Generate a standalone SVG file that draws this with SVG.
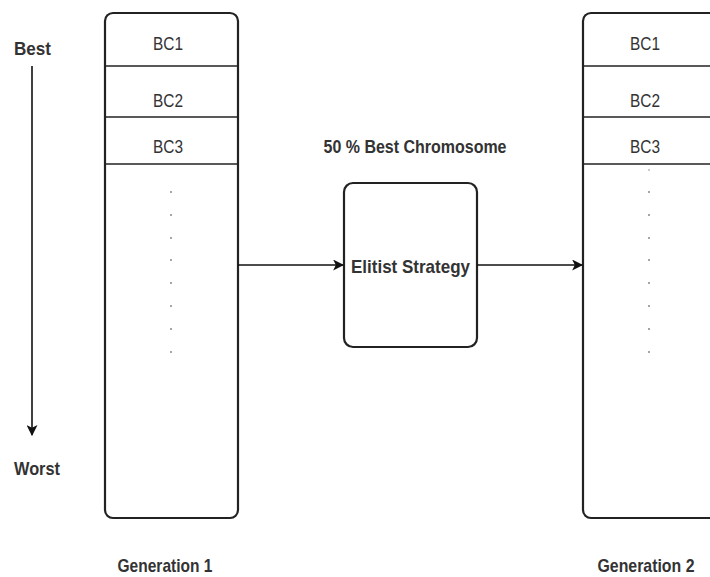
<svg xmlns="http://www.w3.org/2000/svg" width="710" height="577" viewBox="0 0 710 577">
<style>
.box{fill:#fff;stroke:#222;stroke-width:2.2}
.div{stroke:#222;stroke-width:1.6}
.bc{font-family:"Liberation Sans",Arial,sans-serif;font-size:18px;fill:#333;text-anchor:middle}
.lbl{font-family:"Liberation Sans",Arial,sans-serif;font-size:19px;fill:#333;font-weight:bold}
.dot{fill:#888}
.con{stroke:#111;stroke-width:1.6;fill:none}
</style>
<defs>
<marker id="ah" viewBox="0 0 10 10" refX="9" refY="5" markerWidth="11" markerHeight="11" markerUnits="userSpaceOnUse" orient="auto">
<path d="M0,0 L10,5 L0,10 L2.5,5 Z" fill="#111"/>
</marker>
</defs>
<rect width="710" height="577" fill="#fff"/>
<g id="gen1">
<rect class="box" x="105" y="13" width="133" height="505" rx="8"/>
<line class="div" x1="105" y1="66" x2="238" y2="66"/>
<line class="div" x1="105" y1="117" x2="238" y2="117"/>
<line class="div" x1="105" y1="164" x2="238" y2="164"/>
<text class="bc" x="168" y="50" textLength="30" lengthAdjust="spacingAndGlyphs">BC1</text>
<text class="bc" x="168" y="107" textLength="30" lengthAdjust="spacingAndGlyphs">BC2</text>
<text class="bc" x="168" y="153" textLength="30" lengthAdjust="spacingAndGlyphs">BC3</text>
<g class="dot">
<circle cx="171" cy="192" r="1"/><circle cx="171" cy="215" r="1"/><circle cx="171" cy="238" r="1"/><circle cx="171" cy="260" r="1"/><circle cx="171" cy="283" r="1"/><circle cx="171" cy="306" r="1"/><circle cx="171" cy="329" r="1"/><circle cx="171" cy="352" r="1"/>
</g>
<text class="lbl" x="165" y="572" text-anchor="middle" textLength="95" lengthAdjust="spacingAndGlyphs">Generation 1</text>
</g>
<g id="gen2">
<rect class="box" x="583" y="13" width="160" height="505" rx="8"/>
<line class="div" x1="583" y1="66" x2="710" y2="66"/>
<line class="div" x1="583" y1="117" x2="710" y2="117"/>
<line class="div" x1="583" y1="164" x2="710" y2="164"/>
<text class="bc" x="645" y="50" textLength="30" lengthAdjust="spacingAndGlyphs">BC1</text>
<text class="bc" x="645" y="107" textLength="30" lengthAdjust="spacingAndGlyphs">BC2</text>
<text class="bc" x="645" y="153" textLength="30" lengthAdjust="spacingAndGlyphs">BC3</text>
<g class="dot">
<circle cx="649" cy="170" r="0.8"/><circle cx="649" cy="192" r="1"/><circle cx="649" cy="215" r="1"/><circle cx="649" cy="238" r="1"/><circle cx="649" cy="260" r="1"/><circle cx="649" cy="283" r="1"/><circle cx="649" cy="306" r="1"/><circle cx="649" cy="329" r="1"/><circle cx="649" cy="352" r="1"/>
</g>
<text class="lbl" x="646" y="572" text-anchor="middle" textLength="97" lengthAdjust="spacingAndGlyphs">Generation 2</text>
</g>
<g id="elitist">
<rect class="box" x="344" y="183" width="133" height="164" rx="9"/>
<text class="lbl" x="410.5" y="273" text-anchor="middle" font-size="22" textLength="119" lengthAdjust="spacingAndGlyphs">Elitist Strategy</text>
</g>
<g id="caption">
<text class="lbl" x="415" y="153" text-anchor="middle" textLength="183" lengthAdjust="spacingAndGlyphs">50 % Best Chromosome</text>
</g>
<g id="rank">
<text class="lbl" x="14" y="55" textLength="37" lengthAdjust="spacingAndGlyphs">Best</text>
<text class="lbl" x="14" y="475" textLength="46" lengthAdjust="spacingAndGlyphs">Worst</text>
</g>
<g id="connectors">
<line class="con" x1="32" y1="66" x2="32" y2="435" marker-end="url(#ah)"/>
<line class="con" x1="238" y1="265" x2="343" y2="265" marker-end="url(#ah)"/>
<line class="con" x1="477" y1="265" x2="582" y2="265" marker-end="url(#ah)"/>
</g>
</svg>
